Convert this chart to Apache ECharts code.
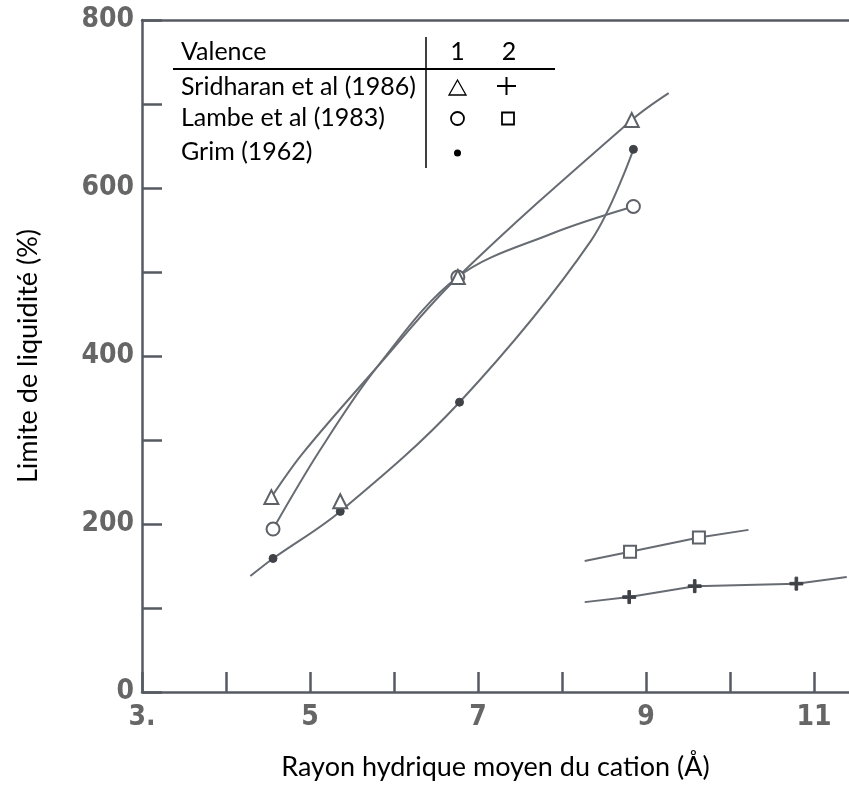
<!DOCTYPE html>
<html><head><meta charset="utf-8">
<script src="https://cdn.jsdelivr.net/npm/echarts@6/dist/echarts.min.js"></script>
<style>html,body{margin:0;padding:0;background:#fff}#c{width:849px;height:796px}</style>
</head><body><div id="c"></div>
<script>
// ---- tick labels ----
const xTickLabels = {3: '3.', 5: '5', 7: '7', 9: '9', 11: '11'};
const yTickLabels = [0, 200, 400, 600, 800];

// ---- markers (x = rayon hydrique Å, y = limite de liquidité %) ----
const sridharan1Points = [[4.54, 232], [5.36, 227], [6.76, 494], [8.83, 681]];
const sridharan2Points = [[8.80, 113], [9.58, 126], [10.79, 129]];
const lambe1Points = [[4.56, 194], [6.76, 494], [8.85, 578]];
const lambe2Points = [[8.81, 167], [9.63, 184]];
const grimPoints = [[4.56, 159], [5.36, 215], [6.78, 345], [8.85, 646]];

// ---- hand-drawn curves ----
const sridharan1Curve = [[4.54, 232], [4.92, 285], [5.8, 387], [6.76, 494], [8.83, 681], [9.27, 713]];
const lambe1Curve = [[4.56, 194], [5.12, 288], [5.8, 387], [6.76, 494], [7.86, 545], [8.85, 578]];
const grimCurve = [[4.29, 138], [4.56, 159], [5.36, 215], [6.78, 345], [8.35, 538], [8.85, 646]];
const lambe2Curve = [[8.27, 156], [8.81, 167], [9.63, 184], [10.22, 193]];
const sridharan2Curve = [[8.27, 107], [8.80, 113], [9.58, 126], [10.79, 129], [11.39, 137]];

const legendRows = ['Sridharan et al (1986)', 'Lambe et al (1983)', 'Grim (1962)'];

const axisColor = '#565b63';
const curveColor = '#676c73';
const tickFont = "'Liberation Sans Narrow','DejaVu Sans Condensed','Liberation Sans',sans-serif";
const textFont = "Lato, 'Open Sans', sans-serif";
const plusPath = 'path://M4,0H6V4H10V6H6V10H4V6H0V4H4Z';

const chart = echarts.init(document.getElementById('c'), null, {renderer: 'canvas'});

function curve(data, smooth) {
  return {type: 'line', data: data, smooth: smooth, showSymbol: false, symbol: 'none',
    lineStyle: {color: curveColor, width: 2}, z: 2, silent: true};
}
function markers(data, symbol, size, filled) {
  return {type: 'scatter', data: data, symbol: symbol, symbolSize: size, z: 4,
    itemStyle: filled ? {color: '#3f4247', borderColor: '#3f4247', borderWidth: 1, opacity: 1}
                      : {color: '#fff', borderColor: '#5d6168', borderWidth: 2, opacity: 1}};
}

const legendX = 181, rowY = [87, 118, 152];
const legendGraphics = [
  {type: 'rect', shape: {x: 162, y: 23, width: 395, height: 146}, style: {fill: '#fff'}, z: 100},
  {type: 'text', x: legendX, y: 52, style: {text: 'Valence', font: '25px ' + textFont, fill: '#000', textVerticalAlign: 'middle'}, z: 101},
  {type: 'text', x: 457.5, y: 52, style: {text: '1', font: '25px ' + textFont, fill: '#000', textAlign: 'center', textVerticalAlign: 'middle'}, z: 101},
  {type: 'text', x: 509, y: 52, style: {text: '2', font: '25px ' + textFont, fill: '#000', textAlign: 'center', textVerticalAlign: 'middle'}, z: 101},
  {type: 'line', shape: {x1: 173, y1: 69, x2: 555, y2: 69}, style: {stroke: '#000', lineWidth: 2}, z: 101},
  {type: 'line', shape: {x1: 426, y1: 37, x2: 426, y2: 168}, style: {stroke: '#000', lineWidth: 1.5}, z: 101},
  {type: 'polygon', shape: {points: [[449, 95], [466, 95], [457.5, 80]]}, style: {fill: 'none', stroke: '#000', lineWidth: 1.3}, z: 101},
  {type: 'line', shape: {x1: 497, y1: 86, x2: 516, y2: 86}, style: {stroke: '#000', lineWidth: 2}, z: 101},
  {type: 'line', shape: {x1: 506.5, y1: 77, x2: 506.5, y2: 95}, style: {stroke: '#000', lineWidth: 2}, z: 101},
  {type: 'circle', shape: {cx: 457.5, cy: 118.5, r: 6.5}, style: {fill: 'none', stroke: '#000', lineWidth: 1.8}, z: 101},
  {type: 'rect', shape: {x: 502, y: 112.5, width: 12, height: 12}, style: {fill: 'none', stroke: '#000', lineWidth: 1.8}, z: 101},
  {type: 'circle', shape: {cx: 457.5, cy: 153, r: 3.5}, style: {fill: '#000'}, z: 101}
];
legendRows.forEach((t, i) => legendGraphics.push(
  {type: 'text', x: legendX, y: rowY[i], style: {text: t, font: '25px ' + textFont, fill: '#000', textVerticalAlign: 'middle'}, z: 101}
));

const option = {
  backgroundColor: '#fff',
  animation: false,
  grid: {left: 142, right: 0, top: 20, bottom: 104, containLabel: false, outerBoundsMode: 'none'},
  xAxis: [{
    type: 'value', min: 3, max: 3 + 707 / 84, interval: 1,
    name: 'Rayon hydrique moyen du cation (Å)', nameLocation: 'middle', nameGap: 62,
    nameTextStyle: {fontFamily: textFont, fontSize: 27, color: '#000'},
    axisLine: {show: true, onZero: false, lineStyle: {color: axisColor, width: 2.5}},
    axisTick: {show: true, inside: true, length: 20, lineStyle: {color: axisColor, width: 2.5}},
    axisLabel: {show: true, showMaxLabel: false, margin: 12, fontFamily: tickFont, fontWeight: 'bold', fontSize: 28, color: '#666',
      formatter: v => xTickLabels[Math.round(v)] !== undefined && Math.abs(v - Math.round(v)) < 1e-6 ? xTickLabels[Math.round(v)] : ''},
    splitLine: {show: false}
  }, {
    type: 'value', position: 'top', min: 3, max: 3 + 707 / 84,
    axisLine: {show: true, onZero: false, lineStyle: {color: axisColor, width: 2.5}},
    axisTick: {show: false}, axisLabel: {show: false}, splitLine: {show: false}
  }],
  yAxis: {
    type: 'value', min: 0, max: 800, interval: 100,
    name: 'Limite de liquidité (%)', nameLocation: 'middle', nameGap: 100, nameRotate: 90,
    nameTextStyle: {fontFamily: textFont, fontSize: 27, color: '#000'},
    axisLine: {show: true, onZero: false, lineStyle: {color: axisColor, width: 2.5}},
    axisTick: {show: true, inside: true, length: 20, lineStyle: {color: axisColor, width: 2.5}},
    axisLabel: {show: true, margin: 8, fontFamily: tickFont, fontWeight: 'bold', fontSize: 28, color: '#666',
      formatter: v => yTickLabels.indexOf(v) >= 0 ? String(v) : ''},
    splitLine: {show: false}
  },
  series: [
    curve(sridharan1Curve, 0.35),
    curve(lambe1Curve, 0.35),
    curve(grimCurve, 0.35),
    curve(lambe2Curve, false),
    curve(sridharan2Curve, false),
    markers(grimPoints, 'circle', 8, true),
    markers(lambe1Points, 'circle', 13, false),
    markers(lambe2Points, 'rect', 12, false),
    markers(sridharan1Points, 'triangle', 14, false),
    markers(sridharan2Points, plusPath, 13, true)
  ],
  graphic: legendGraphics
};
chart.setOption(option);
</script>
</body></html>
